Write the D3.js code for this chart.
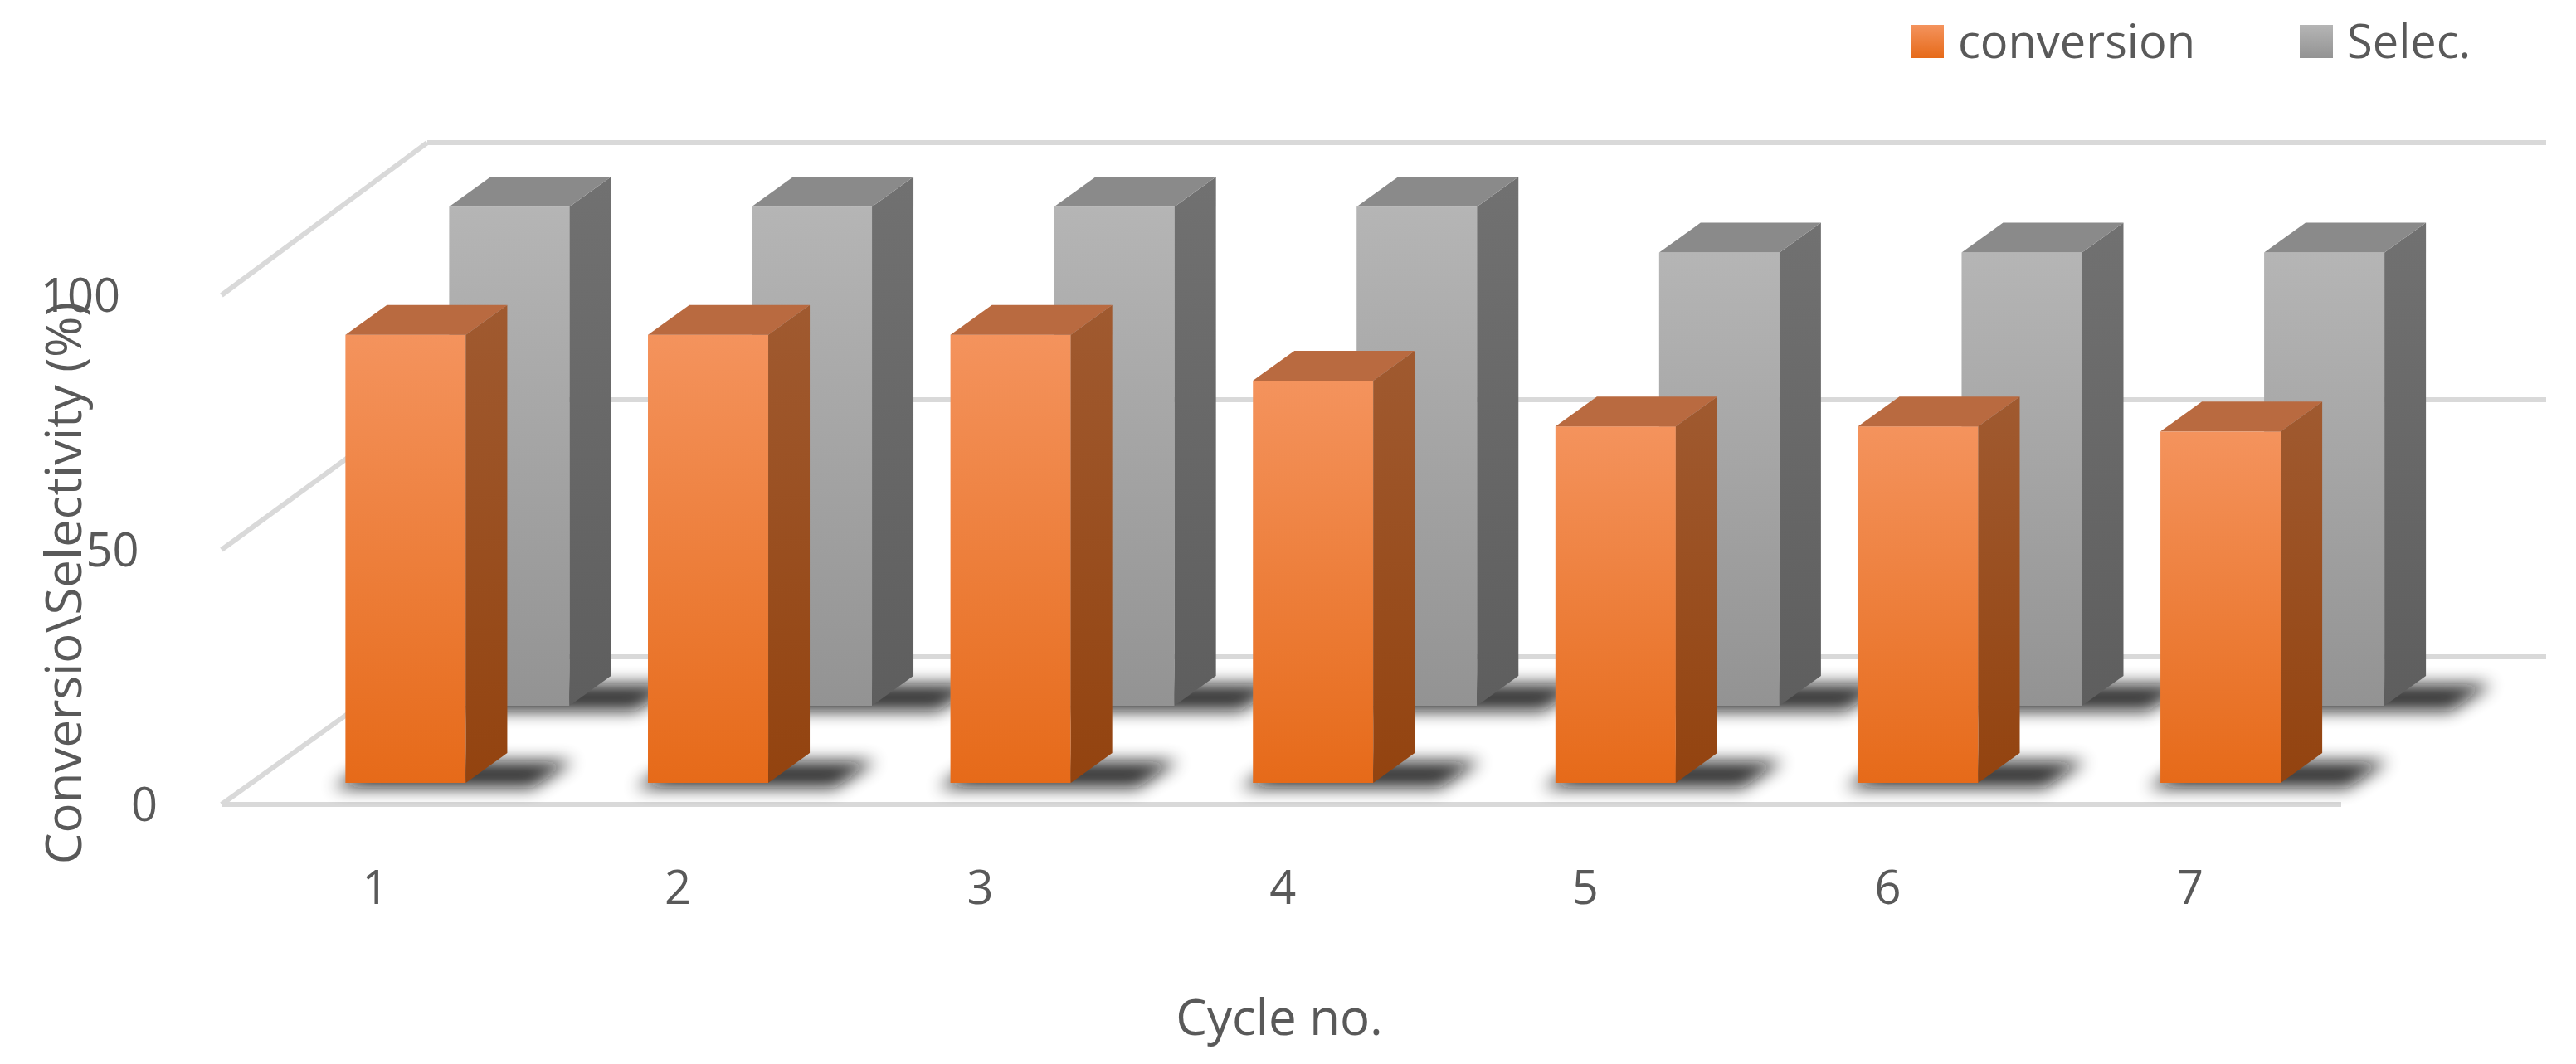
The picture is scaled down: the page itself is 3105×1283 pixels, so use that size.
<!DOCTYPE html>
<html><head><meta charset="utf-8">
<script src="https://cdn.jsdelivr.net/npm/d3@7"></script>
<style>body{margin:0;background:#fff}</style>
</head><body>
<svg id="chart" width="3105" height="1283"></svg>
<script>
const cycles = ["1", "2", "3", "4", "5", "6", "7"];
const conversion = [88, 88, 88, 79, 70, 70, 69];
const selectivity = [98, 98, 98, 98, 89, 89, 89];
const yTicks = [0, 50, 100];

const svg = d3.select("#chart");
const font = "'Open Sans', 'Noto Sans', sans-serif";
const defs = svg.append("defs");

function grad(id, c0, c1) {
    let g = defs.append("linearGradient").attr("id", id)
        .attr("x1", 0).attr("y1", 0).attr("x2", 0).attr("y2", 1);
    g.append("stop").attr("offset", "0%").attr("stop-color", c0);
    g.append("stop").attr("offset", "100%").attr("stop-color", c1);
}
grad("oFront", "#f4935d", "#e66a19");
grad("oSide", "#a05a30", "#93430f");
grad("gFront", "#b5b5b5", "#939393");
grad("gSide", "#717171", "#5e5e5e");
defs.append("filter").attr("id", "blur").attr("x", "-50%").attr("y", "-200%")
    .attr("width", "200%").attr("height", "500%")
    .append("feGaussianBlur").attr("stdDeviation", 10);

// scales
let step = 364.5;
let x = d3.scaleBand().domain(cycles)
    .range([307, 307 + 7 * step]).paddingInner(1 - 145 / step).paddingOuter(0.3);
let yBack = d3.scaleLinear().domain([0, 100]).range([792, 172]);
let yFront = d3.scaleLinear().domain([0, 100]).range([970, 356]);
let yConv = d3.scaleLinear().domain([0, 100]).range([944, 330]);
let ySel = d3.scaleLinear().domain([0, 100]).range([851, 237]);
let dx = 50, dy = -36;

// gridlines
let grid = svg.append("g").attr("stroke", "#d9d9d9").attr("stroke-width", 6).attr("fill", "none");
yTicks.forEach(v => {
    grid.append("line").attr("x1", 515).attr("x2", 3069).attr("y1", yBack(v)).attr("y2", yBack(v));
    grid.append("line").attr("x1", 267).attr("x2", 515).attr("y1", yFront(v)).attr("y2", yBack(v));
});
grid.append("line").attr("x1", 267).attr("x2", 2822).attr("y1", yFront(0)).attr("y2", yFront(0));

function drawBars(data, xOff, y, front, side, top) {
    let g = svg.append("g");
    let w = x.bandwidth();
    data.forEach((v, i) => {
        let x0 = x(cycles[i]) + xOff, yb = y(0), yt = y(v);
        g.append("path").attr("filter", "url(#blur)").attr("fill", "#111").attr("opacity", 0.85)
            .attr("d", `M${x0 - 25},${yb - 4} L${x0 + w + 70},${yb - 4} L${x0 + w + 70 + dx},${yb + dy} L${x0 - 25 + dx},${yb + dy}Z`)
            .attr("transform", "translate(10,10)");
        g.append("rect").attr("x", x0).attr("y", yt).attr("width", w).attr("height", yb - yt)
            .attr("fill", `url(#${front})`);
        g.append("path").attr("fill", `url(#${side})`)
            .attr("d", `M${x0 + w},${yt} L${x0 + w + dx},${yt + dy} L${x0 + w + dx},${yb + dy} L${x0 + w},${yb}Z`);
        g.append("path").attr("fill", top)
            .attr("d", `M${x0},${yt} L${x0 + dx},${yt + dy} L${x0 + w + dx},${yt + dy} L${x0 + w},${yt}Z`);
    });
}
drawBars(selectivity, 125, ySel, "gFront", "gSide", "#8a8a8a");
drawBars(conversion, 0, yConv, "oFront", "oSide", "#b96a40");

// y tick labels
svg.append("g").selectAll("text").data(yTicks).join("text")
    .attr("x", v => 190 - v * 0.45).attr("y", v => yFront(v) + 20)
    .attr("text-anchor", "end").attr("font-family", font).attr("font-size", 56).attr("fill", "#595959")
    .text(d => d);

// x labels
svg.append("g").selectAll("text").data(cycles).join("text")
    .attr("x", d => x(d) + 36).attr("y", 1090)
    .attr("text-anchor", "middle").attr("font-family", font).attr("font-size", 56).attr("fill", "#595959")
    .text(d => d);

svg.append("text").attr("transform", "translate(98,703) rotate(-90)")
    .attr("text-anchor", "middle").attr("font-family", font).attr("font-size", 60).attr("fill", "#595959")
    .text("Conversio\\Selectivity (%)");
svg.append("text").attr("x", 1542).attr("y", 1248)
    .attr("text-anchor", "middle").attr("font-family", font).attr("font-size", 60).attr("fill", "#595959")
    .text("Cycle no.");

// legend
let legend = [["conversion", "oFront", 2303], ["Selec.", "gFront", 2772]];
legend.forEach(([label, fill, lx]) => {
    svg.append("rect").attr("x", lx).attr("y", 30).attr("width", 40).attr("height", 40).attr("fill", `url(#${fill})`);
    svg.append("text").attr("x", lx + 57).attr("y", 70).attr("font-family", font).attr("font-size", 56)
        .attr("fill", "#595959").text(label);
});
</script>
</body></html>
